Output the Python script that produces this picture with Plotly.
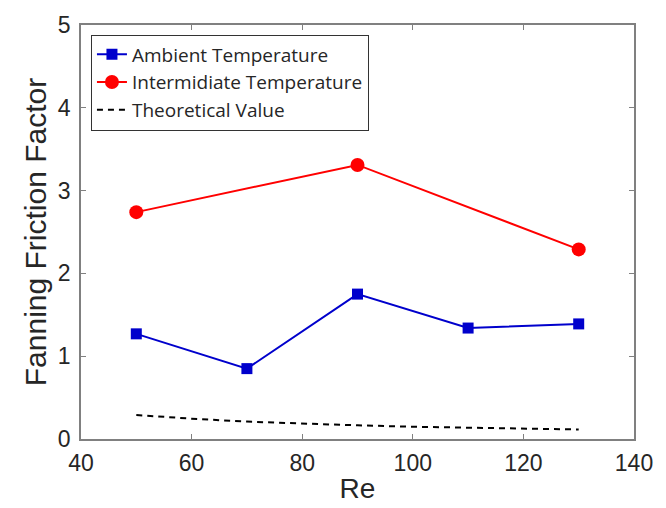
import plotly.graph_objects as go

re_amb = [50, 70, 90, 110, 130]
f_amb = [1.27, 0.85, 1.75, 1.34, 1.39]

re_int = [50, 90, 130]
f_int = [2.74, 3.31, 2.29]

re_theo = [50, 60, 70, 80, 90, 100, 110, 120, 130]
f_theo = [0.29, 0.245, 0.21, 0.185, 0.165, 0.148, 0.135, 0.124, 0.115]

x_ticks = [40, 60, 80, 100, 120, 140]
y_ticks = [0, 1, 2, 3, 4, 5]

FONT = "Liberation Sans, Arial, Helvetica, sans-serif"
LFONT = "Open Sans, Liberation Sans, Arial, sans-serif"
TXT = "#262626"
AX = "#808080"

fig = go.Figure()
fig.add_trace(go.Scatter(
    x=re_amb, y=f_amb, mode="lines+markers", name="Ambient Temperature",
    line=dict(color="#0000CC", width=2),
    marker=dict(symbol="square", size=11, color="#0000CC")))
fig.add_trace(go.Scatter(
    x=re_int, y=f_int, mode="lines+markers", name="Intermidiate Temperature",
    line=dict(color="#FF0000", width=2),
    marker=dict(symbol="circle", size=14, color="#FF0000")))
fig.add_trace(go.Scatter(
    x=re_theo, y=f_theo, mode="lines", name="Theoretical Value",
    line=dict(color="black", width=2, dash="6px,5px")))

axis_common = dict(
    showline=True, linecolor=AX, linewidth=1.5, mirror="ticks",
    ticks="inside", ticklen=5, tickcolor=AX, tickwidth=1,
    showgrid=False, zeroline=False, automargin=False,
    tickfont=dict(family=FONT, size=23, color=TXT),
)

fig.update_layout(
    width=666, height=508,
    margin=dict(l=73, r=40, t=17, b=77),
    paper_bgcolor="white", plot_bgcolor="white",
    font=dict(family=FONT, color=TXT),
    xaxis=dict(range=[40, 140], tickvals=x_ticks, ticklabelstandoff=3,
               title=dict(text="Re", font=dict(family=FONT, size=28, color=TXT), standoff=3),
               **axis_common),
    yaxis=dict(range=[0, 5], tickvals=y_ticks, ticklabelstandoff=4,
               title=dict(text="Fanning Friction Factor", font=dict(family=FONT, size=30, color=TXT), standoff=2),
               **axis_common),
    legend=dict(x=0.018, y=0.977, xanchor="left", yanchor="top",
                bgcolor="white", bordercolor="#333333", borderwidth=1,
                font=dict(family=LFONT, size=19, color=TXT),
                itemwidth=30, tracegroupgap=0),
    showlegend=True,
)

fig.write_html("out.html")
